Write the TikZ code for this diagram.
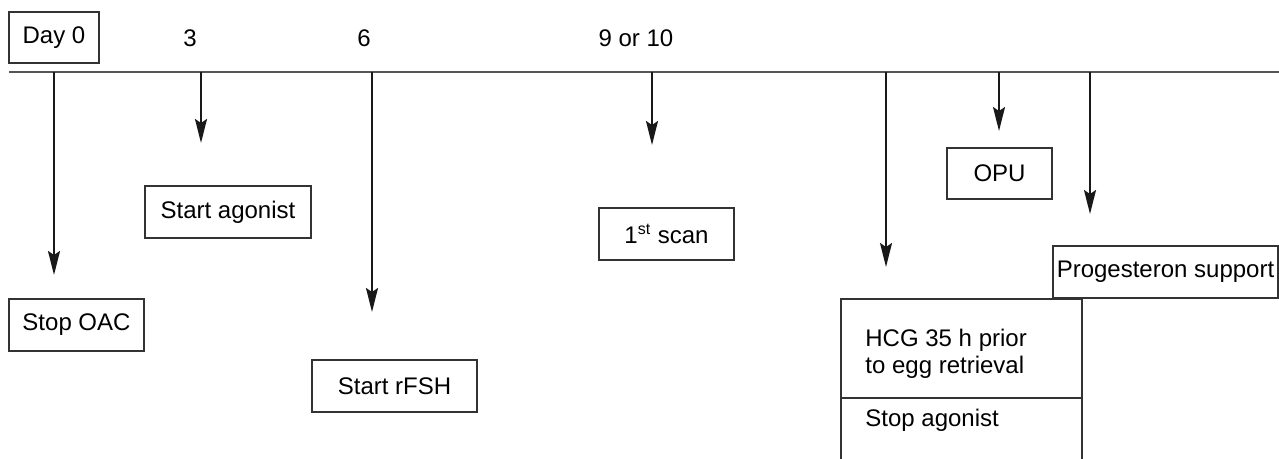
\documentclass[tikz,border=0pt]{standalone}
\usepackage{fontspec}
\setmainfont{Liberation Sans}
\usepackage{tikz}
\usetikzlibrary{arrows.meta}
\usetikzlibrary{positioning}
\definecolor{lineGray}{HTML}{555555}
\definecolor{boxGray}{HTML}{333333}

\begin{document}
\begin{tikzpicture}[x=0.5pt,y=-0.5pt,
    evbox/.style={draw=boxGray, line width=0.7pt, minimum height=26pt, inner sep=0pt,
      font=\fontsize{12}{13.5}\selectfont},
    lbl/.style={inner sep=0pt, font=\fontsize{12}{13.5}\selectfont},
    evarrow/.style={-{Stealth[length=12pt,width=6pt,inset=2pt]}, line width=1pt, black!90}]
  \useasboundingbox (0,0) rectangle (1279,459);

  % time line and day labels
  \coordinate (tlstart) at (9,72);
  \coordinate (tlend) at (1279,72);
  \draw[lineGray, line width=1pt] (tlstart) -- (tlend);
  \node[evbox, minimum width=45pt, minimum height=25.5pt] (day0) at (54,37.5) {Day 0};
  \node[lbl] (day3) at (190,38) {3};
  \node[lbl] (day6) at (364,38) {6};
  \node[lbl] (day9) at (636,38) {9 or 10};

  % arrows down from the time line
  \foreach \x/\y/\n in {54/275/oac, 201/143/ago, 372/312/fsh, 652/145/scan,
                        886/267/hcg, 999/131/opu, 1090/214/prog} {
    \coordinate (top-\n) at (\x,72);
    \coordinate (tip-\n) at (\x,\y);
    \draw[evarrow] (top-\n) -- (tip-\n);
  }

  % events
  \node[evbox, minimum width=67.5pt] (stopoac) at (76.5,325) {Stop OAC};
  \node[evbox, minimum width=83pt] (startago) at (228,212) {Start agonist};
  \node[evbox, minimum width=82.5pt] (startfsh) at (394.5,386) {Start rFSH};
  \node[evbox, minimum width=67.5pt] (firstscan) at (666.5,234) {1\textsuperscript{st} scan};
  \node[evbox, minimum width=52.5pt, minimum height=25.5pt] (opu) at (999.5,173.5) {OPU};
  \node[evbox, minimum width=112.5pt] (progsup) at (1165.5,272) {Progesteron support};

  % open box for HCG / stop agonist
  \coordinate (hcgbl) at (841,459);
  \coordinate (hcgtr) at (1082,299);
  \coordinate (hcgbr) at (1082,459);
  \coordinate (hcgml) at (841,398);
  \coordinate (hcgmr) at (1082,398);
  \draw[boxGray, line width=0.7pt] (hcgbl) |- (hcgtr) -- (hcgbr);
  \draw[boxGray, line width=0.7pt] (hcgml) -- (hcgmr);
  \node[lbl, anchor=west, align=left] (hcgtext) at (865,353.5) {HCG 35 h prior\\to egg retrieval};
  \node[lbl, anchor=west] (stopago) at (865,420) {Stop agonist};
\end{tikzpicture}
\end{document}
